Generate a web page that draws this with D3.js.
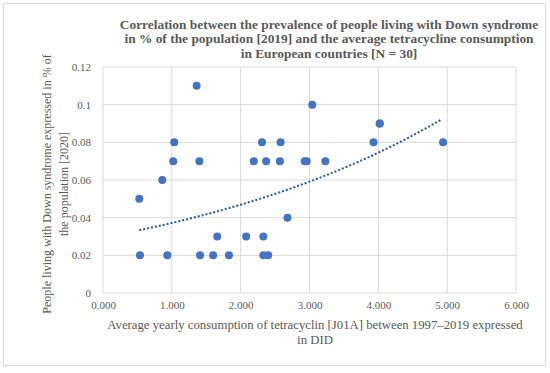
<!DOCTYPE html>
<html>
<head>
<meta charset="utf-8">
<script src="https://cdn.jsdelivr.net/npm/d3@7"></script>
<style>
  body { margin: 0; background: #fff; }
  text { font-family: "Liberation Serif", "Times New Roman", serif; }
</style>
</head>
<body>
<div id="chart"></div>
<script>
// tetracycline consumption (DID) vs Down syndrome prevalence (%)
const consumption = [0.527, 0.537, 0.861, 0.934, 1.02, 1.035, 1.36, 1.40, 1.41, 1.60,
    1.66, 1.83, 2.08, 2.19, 2.31, 2.33, 2.33, 2.37, 2.40, 2.58,
    2.57, 2.68, 2.93, 2.96, 3.04, 3.23, 3.93, 4.02, 4.94, 4.02];
const prevalence = [0.05, 0.02, 0.06, 0.02, 0.07, 0.08, 0.11, 0.07, 0.02, 0.02,
    0.03, 0.02, 0.03, 0.07, 0.08, 0.03, 0.02, 0.07, 0.02, 0.08,
    0.07, 0.04, 0.07, 0.07, 0.10, 0.07, 0.08, 0.09, 0.08, 0.09];
const xTicks = [0, 1, 2, 3, 4, 5, 6];
const yTicks = [0, 0.02, 0.04, 0.06, 0.08, 0.1, 0.12];
const titleLines = [
    'Correlation between the prevalence of people living with Down syndrome',
    'in % of the population [2019] and the average tetracycline consumption',
    'in European countries [N = 30]'
];
const xTitleLines = [
    'Average yearly consumption of tetracyclin [J01A] between 1997\u20132019 expressed',
    'in DID'
];
const yTitleLines = [
    'People living with Down syndrome expressed in % of',
    'the population [2020]'
];

const width = 550, height = 373;
const margin = {left: 103, right: 34, top: 67, bottom: 80};
const serif = '"Liberation Serif", "Times New Roman", serif';

const svg = d3.select('#chart').append('svg')
    .attr('width', width)
    .attr('height', height);

// outer frame
svg.append('rect')
    .attr('x', 3.5).attr('y', 3.5)
    .attr('width', 542).attr('height', 362)
    .attr('fill', '#fff')
    .attr('stroke', '#d9d9d9');

let x = d3.scaleLinear().domain([0, 6]).range([margin.left, width - margin.right]);
let y = d3.scaleLinear().domain([0, 0.12]).range([height - margin.bottom, margin.top]);

// gridlines
svg.append('g')
    .selectAll('line')
    .data(xTicks)
    .enter().append('line')
    .attr('x1', d => x(d)).attr('x2', d => x(d))
    .attr('y1', y(0)).attr('y2', y(0.12))
    .attr('stroke', '#d9d9d9').attr('stroke-width', 1);
svg.append('g')
    .selectAll('line')
    .data(yTicks)
    .enter().append('line')
    .attr('x1', x(0)).attr('x2', x(6))
    .attr('y1', d => y(d)).attr('y2', d => y(d))
    .attr('stroke', '#d9d9d9').attr('stroke-width', 1);

// axes (labels only)
let xAxis = d3.axisBottom(x).tickValues(xTicks).tickSize(0).tickPadding(8)
    .tickFormat(d3.format('.3f'));
let yAxis = d3.axisLeft(y).tickValues(yTicks).tickSize(0).tickPadding(12)
    .tickFormat(d => d === 0 ? '0' : String(+d.toFixed(2)));
let gx = svg.append('g').attr('transform', `translate(0,${y(0)})`).call(xAxis);
let gy = svg.append('g').attr('transform', `translate(${x(0)},0)`).call(yAxis);
[gx, gy].forEach(g => {
    g.attr('font-family', serif).attr('font-size', 11);
    g.select('.domain').remove();
    g.selectAll('text')
        .style('font-family', serif)
        .style('font-size', '11px')
        .attr('fill', '#595959');
});

// exponential trendline (least squares on ln y)
let lnY = prevalence.map(v => Math.log(v));
let mx = d3.mean(consumption), my = d3.mean(lnY);
let sxy = d3.sum(consumption, (v, i) => (v - mx) * (lnY[i] - my));
let sxx = d3.sum(consumption, v => (v - mx) * (v - mx));
let b = sxy / sxx, a = Math.exp(my - b * mx);
let xs = d3.range(d3.min(consumption), d3.max(consumption) + 0.001, 0.05);
svg.append('path')
    .datum(xs)
    .attr('d', d3.line().x(d => x(d)).y(d => y(a * Math.exp(b * d))))
    .attr('fill', 'none')
    .attr('stroke', '#2f5597')
    .attr('stroke-width', 2)
    .attr('stroke-dasharray', '2,2');

// points
svg.append('g')
    .selectAll('circle')
    .data(consumption)
    .enter().append('circle')
    .attr('cx', d => x(d))
    .attr('cy', (d, i) => y(prevalence[i]))
    .attr('r', 4)
    .attr('fill', '#4472c4');

// title
svg.append('text')
    .attr('text-anchor', 'middle')
    .style('font-size', '13.4px')
    .style('font-weight', 'bold')
    .attr('fill', '#595959')
    .selectAll('tspan')
    .data(titleLines)
    .enter().append('tspan')
    .attr('x', 329)
    .attr('y', (d, i) => 28.5 + i * 14.7)
    .text(d => d);

// x title
svg.append('text')
    .attr('text-anchor', 'middle')
    .style('font-size', '12.75px')
    .attr('fill', '#595959')
    .selectAll('tspan')
    .data(xTitleLines)
    .enter().append('tspan')
    .attr('x', 315)
    .attr('y', (d, i) => 328.5 + i * 15)
    .text(d => d);

// y title
svg.append('text')
    .attr('text-anchor', 'middle')
    .attr('transform', 'translate(0,184) rotate(-90)')
    .style('font-size', '12px')
    .attr('fill', '#595959')
    .selectAll('tspan')
    .data(yTitleLines)
    .enter().append('tspan')
    .attr('x', 0)
    .attr('y', (d, i) => 51 + i * 16.5)
    .text(d => d);
</script>
</body>
</html>
